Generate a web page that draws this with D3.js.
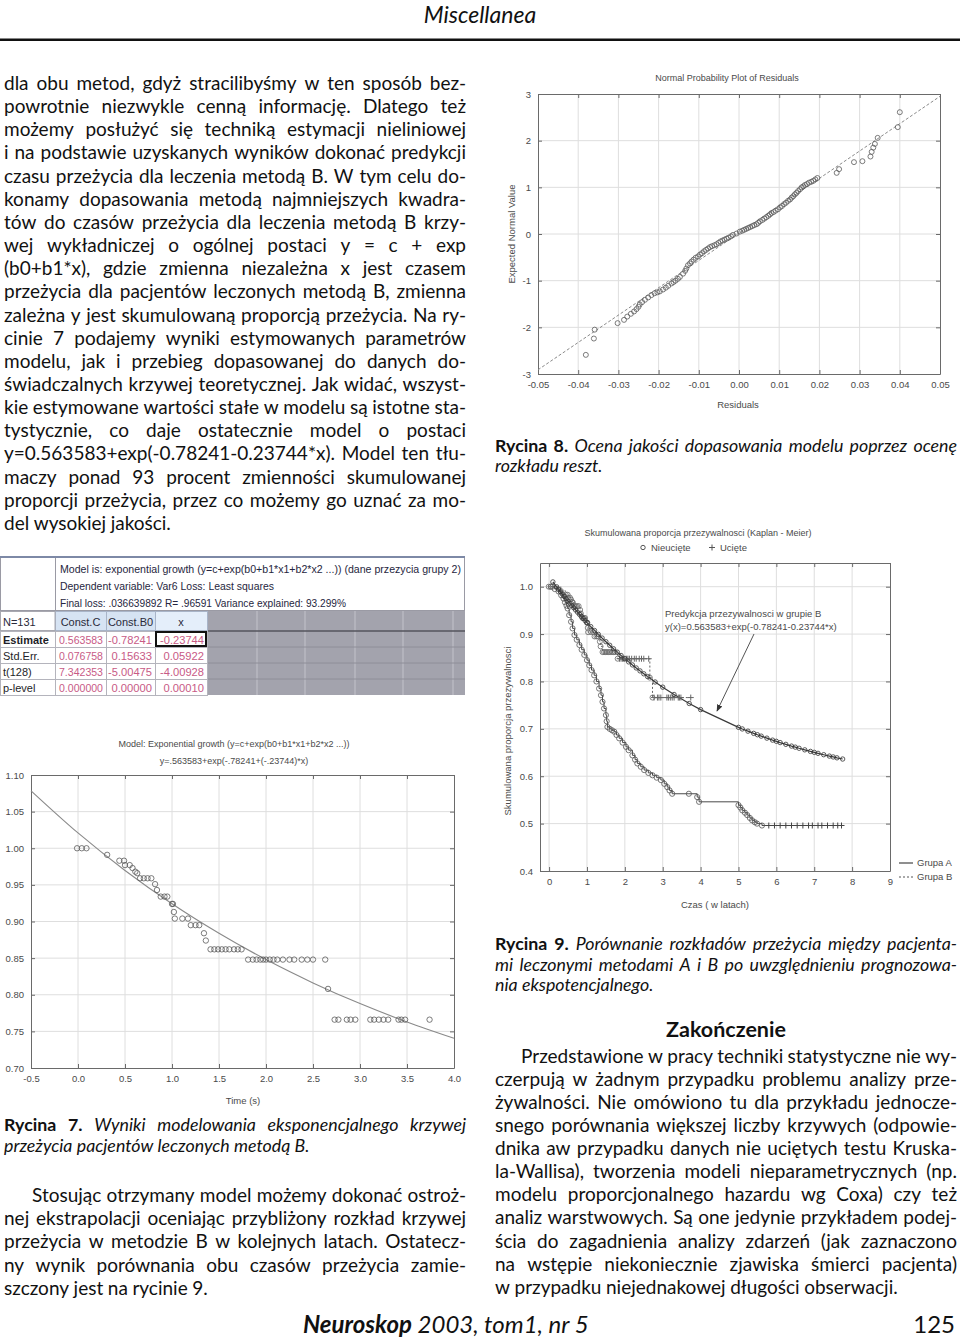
<!DOCTYPE html>
<html>
<head>
<meta charset="utf-8">
<script src="https://cdn.jsdelivr.net/npm/d3@7"></script>
<style>
body { margin: 0; background: #fff; }
svg { display: block; }
</style>
</head>
<body>
<svg id="page" width="960" height="1342"></svg>
<script>
// ---------- text of the page ----------
var leftLines = [
  "dla obu metod, gdyż stracilibyśmy w ten sposób bez-",
  "powrotnie niezwykle cenną informację. Dlatego też",
  "możemy posłużyć się techniką estymacji nieliniowej",
  "i na podstawie uzyskanych wyników dokonać predykcji",
  "czasu przeżycia dla leczenia metodą B. W tym celu do-",
  "konamy dopasowania metodą najmniejszych kwadra-",
  "tów do czasów przeżycia dla leczenia metodą B krzy-",
  "wej wykładniczej o ogólnej postaci y = c + exp",
  "(b0+b1*x), gdzie zmienna niezależna x jest czasem",
  "przeżycia dla pacjentów leczonych metodą B, zmienna",
  "zależna y jest skumulowaną proporcją przeżycia. Na ry-",
  "cinie 7 podajemy wyniki estymowanych parametrów",
  "modelu, jak i przebieg dopasowanej do danych do-",
  "świadczalnych krzywej teoretycznej. Jak widać, wszyst-",
  "kie estymowane wartości stałe w modelu są istotne sta-",
  "tystycznie, co daje ostatecznie model o postaci",
  "y=0.563583+exp(-0.78241-0.23744*x). Model ten tłu-",
  "maczy ponad 93 procent zmienności skumulowanej",
  "proporcji przeżycia, przez co możemy go uznać za mo-",
  "del wysokiej jakości."
];
var caption7 = ["Wyniki modelowania eksponencjalnego krzywej", "przeżycia pacjentów leczonych metodą B."];
var stosLines = [
  "Stosując otrzymany model możemy dokonać ostroż-",
  "nej ekstrapolacji oceniając przybliżony rozkład krzywej",
  "przeżycia w metodzie B w kolejnych latach. Ostatecz-",
  "ny wynik porównania obu czasów przeżycia zamie-",
  "szczony jest na rycinie 9."
];
var caption8 = ["Ocena jakości dopasowania modelu poprzez ocenę", "rozkładu reszt."];
var caption9 = ["Porównanie rozkładów przeżycia między pacjenta-",
  "mi leczonymi metodami A i B po uwzględnieniu prognozowa-",
  "nia ekspotencjalnego."];
var rightLines = [
  "Przedstawione w pracy techniki statystyczne nie wy-",
  "czerpują w żadnym przypadku problemu analizy prze-",
  "żywalności. Nie omówiono tu dla przykładu jednocze-",
  "snego porównania większej liczby krzywych (odpowie-",
  "dnika aw przypadku danych nie uciętych testu Kruska-",
  "la-Wallisa), tworzenia modeli nieparametrycznych (np.",
  "modelu proporcjonalnego hazardu wg Coxa) czy też",
  "analiz warstwowych. Są one jedynie przykładem podej-",
  "ścia do zagadnienia analizy zdarzeń (jak zaznaczono",
  "na wstępie niekoniecznie zjawiska śmierci pacjenta)",
  "w przypadku niejednakowej długości obserwacji."
];

// ---------- Rycina 8: normal probability plot ----------
var npResid = [-0.0381,-0.0361,-0.0359,-0.0302,-0.0286,-0.0278,-0.0269,-0.0261,-0.0255,-0.0250,
  -0.0247,-0.0241,-0.0234,-0.0226,-0.0218,-0.0210,-0.0203,-0.0197,-0.0189,-0.0182,
  -0.0176,-0.0168,-0.0163,-0.0158,-0.0152,-0.0147,-0.0139,-0.0134,-0.0131,-0.0127,
  -0.0122,-0.0118,-0.0113,-0.0108,-0.0102,-0.0097,-0.0092,-0.0087,-0.0082,-0.0077,
  -0.0072,-0.0067,-0.0061,-0.0056,-0.0051,-0.0046,-0.0041,-0.0036,-0.0031,-0.0026,
  -0.0020,-0.0015,-0.0006,0.0002,0.0008,0.0013,0.0018,0.0023,0.0028,0.0033,
  0.0038,0.0044,0.0048,0.0052,0.0058,0.0063,0.0068,0.0073,0.0077,0.0081,
  0.0086,0.0091,0.0097,0.0102,0.0107,0.0112,0.0117,0.0122,0.0127,0.0131,
  0.0135,0.0139,0.0143,0.0147,0.0152,0.0156,0.0160,0.0164,0.0169,0.0174,
  0.0180,0.0185,0.0190,0.0195,0.0243,0.0249,0.0286,0.0307,0.0327,0.0330,
  0.0334,0.0338,0.0345,0.0395,0.0400];
var npExpected = [-2.59,-2.24,-2.05,-1.91,-1.84,-1.77,-1.71,-1.66,-1.61,-1.56,
  -1.51,-1.46,-1.41,-1.36,-1.31,-1.27,-1.25,-1.23,-1.19,-1.15,
  -1.11,-1.06,-1.03,-1.00,-0.96,-0.92,-0.85,-0.79,-0.74,-0.67,
  -0.63,-0.59,-0.55,-0.51,-0.48,-0.44,-0.41,-0.37,-0.34,-0.31,
  -0.28,-0.26,-0.24,-0.22,-0.19,-0.16,-0.14,-0.12,-0.10,-0.08,
  -0.05,-0.02,0.01,0.05,0.07,0.09,0.11,0.13,0.15,0.17,
  0.19,0.21,0.24,0.27,0.30,0.33,0.36,0.39,0.42,0.45,
  0.47,0.50,0.53,0.57,0.60,0.64,0.67,0.71,0.74,0.78,
  0.81,0.85,0.88,0.92,0.96,1.00,1.02,1.05,1.07,1.10,
  1.12,1.14,1.17,1.20,1.31,1.39,1.54,1.56,1.66,1.76,
  1.85,1.93,2.06,2.29,2.61];
var npRefX = [-0.05, 0.05];
var npRefY = [-2.91, 2.95];
var residTicks = [-0.05,-0.04,-0.03,-0.02,-0.01,0,0.01,0.02,0.03,0.04,0.05];
var normTicks = [-3,-2,-1,0,1,2,3];

// ---------- Rycina 7: table + exponential fit ----------
var modelText = [
  "Model is: exponential growth (y=c+exp(b0+b1*x1+b2*x2 ...)) (dane przezycia grupy 2)",
  "Dependent variable: Var6 Loss: Least squares",
  "Final loss: .036639892 R= .96591 Variance explained: 93.299%"
];
var tableCols = ["Const.C", "Const.B0", "x"];
var tableRows = ["Estimate", "Std.Err.", "t(128)", "p-level"];
var tableVals = [
  ["0.563583", "-0.78241", "-0.23744"],
  ["0.076758", "0.15633", "0.05922"],
  ["7.342353", "-5.00475", "-4.00928"],
  ["0.000000", "0.00000", "0.00010"]
];
var timeTicks = [-0.5,0,0.5,1,1.5,2,2.5,3,3.5,4];
var propTicks = [0.70,0.75,0.80,0.85,0.90,0.95,1.00,1.05,1.10];
var fitTime = [-0.5,0,0.5,1,1.5,2,2.5,3,3.5,4];
var fitProp = [1.0785,1.0209,0.9697,0.9242,0.8839,0.8480,0.8162,0.7879,0.7628,0.7405];
var groupBTime = [-0.01,0.04,0.09,0.31,0.44,0.49,0.50,0.55,0.58,0.61,0.63,0.66,0.70,0.74,0.78,
  0.82,0.84,0.88,0.92,0.95,1.00,1.01,1.02,1.03,1.11,1.17,1.20,1.25,1.29,1.34,1.36,
  1.41,1.45,1.49,1.53,1.57,1.61,1.66,1.70,1.74,
  1.81,1.86,1.90,1.94,1.97,2.00,2.04,2.08,2.12,2.18,2.25,2.30,2.38,2.44,2.50,2.63,
  2.66,2.73,2.77,2.86,2.90,2.95,3.11,3.15,3.20,3.25,3.30,3.41,3.44,3.48,3.74];
var groupBSurv = [1.0,1.0,1.0,0.991,0.983,0.983,0.977,0.977,0.973,0.968,0.966,0.959,0.959,0.959,0.959,
  0.951,0.943,0.934,0.934,0.934,0.924,0.924,0.913,0.904,0.904,0.904,0.895,0.895,0.895,0.884,0.874,
  0.862,0.862,0.862,0.862,0.862,0.862,0.862,0.862,0.862,
  0.848,0.848,0.848,0.848,0.848,0.848,0.848,0.848,0.848,0.848,0.848,0.848,0.848,0.848,0.848,0.848,
  0.808,0.766,0.766,0.766,0.766,0.766,0.766,0.766,0.766,0.766,0.766,0.766,0.766,0.766,0.766];

// ---------- Rycina 9: Kaplan-Meier ----------
var kmTimeTicks = [0,1,2,3,4,5,6,7,8,9];
var kmPropTicks = [0.4,0.5,0.6,0.7,0.8,0.9,1.0];
var groupATime = [0.05,0.15,0.25,0.32,0.38,0.42,0.46,0.49,0.53,0.58,0.62,0.67,0.73,0.80,0.86,
  0.93,1.00,1.06,1.12,1.19,1.25,1.32,1.37,1.41,1.45,1.50,1.52,1.54,1.60,1.66,
  1.72,1.78,1.85,1.94,2.03,2.10,2.20,2.27,2.33,2.42,2.51,2.62,2.73,2.84,2.95,
  3.04,3.12,3.18,3.25,3.69,3.91,3.96,5.00,5.05,5.10,5.17,5.23,5.30,5.36,5.43,5.49,5.62];
var groupASurv = [1.0,0.995,0.99,0.982,0.975,0.967,0.96,0.954,0.94,0.926,0.912,0.898,0.888,0.877,0.867,
  0.856,0.845,0.834,0.824,0.813,0.8,0.785,0.771,0.757,0.743,0.729,0.716,0.704,0.70,0.697,
  0.694,0.687,0.68,0.671,0.662,0.655,0.644,0.635,0.627,0.62,0.613,0.607,0.602,0.597,0.592,
  0.584,0.577,0.57,0.563,0.563,0.556,0.546,0.539,0.534,0.528,0.523,0.518,0.512,0.507,0.503,0.50,0.496];
var groupACensTime = [5.80,5.95,6.10,6.25,6.40,6.55,6.70,6.85,6.95,7.10,7.20,7.35,7.50,7.62,7.72];
var groupACensSurv = 0.496;
var predTime = [0.10,0.20,0.25,0.30,0.35,0.40,0.45,0.50,0.55,0.60,0.65,0.70,0.75,0.80,0.85,0.90,0.95,1.00,
  1.10,1.20,1.30,1.40,1.50,1.60,1.70,1.80,1.90,2.00,2.10,2.20,2.30,2.40,2.50,2.60,2.80,3.00,3.30,3.70,4.00,
  5.00,5.10,5.25,5.40,5.50,5.60,5.75,5.90,6.00,6.10,6.25,6.40,6.50,6.60,6.75,6.90,7.00,7.10,7.25,7.40,7.50,7.60,7.75];
var predSurv = [1.0101,0.9997,0.9945,0.9894,0.9844,0.9795,0.9745,0.9697,0.9649,0.9602,0.9555,0.9509,0.9463,0.9418,0.9373,0.9329,0.9285,0.9242,
  0.9158,0.9075,0.8994,0.8916,0.8839,0.8764,0.8690,0.8619,0.8548,0.8481,0.8413,0.8349,0.8285,0.8223,0.8162,0.8103,0.7989,0.7880,0.7725,0.7535,0.7406,
  0.7032,0.6998,0.6951,0.6905,0.6876,0.6846,0.6804,0.6762,0.6737,0.6710,0.6673,0.6636,0.6614,0.6590,0.6557,0.6524,0.6504,0.6483,0.6454,0.6425,0.6407,0.6388,0.6363];

// ---------- helpers ----------
var FONT = "Lato, 'Open Sans', sans-serif";
var CFONT = "'Liberation Sans', Arial, sans-serif";
var svg = d3.select("#page");

// STATISTICA prints a plain hyphen as minus sign
function fmt(spec) {
  var f = d3.format(spec);
  return function(d) { return f(d).replace("\u2212", "-"); };
}

// one justified line, built word by word
function textLine(g, parts, x, y, width, justify, size) {
  var words = [];
  parts.forEach(function(p) {
    p.t.split(" ").forEach(function(w) { if (w) words.push({t: w, b: p.b, i: p.i}); });
  });
  var nodes = words.map(function(w) {
    return g.append("text").attr("y", y).attr("font-size", size)
      .attr("font-family", FONT).attr("fill", "#111")
      .attr("font-weight", w.b ? "bold" : null)
      .attr("font-style", w.i ? "italic" : null)
      .text(w.t);
  });
  var widths = nodes.map(function(n) { return n.node().getComputedTextLength(); });
  var total = d3.sum(widths);
  var gap = size * 0.24;
  if (justify && words.length > 1) gap = (width - total) / (words.length - 1);
  if (gap < 2.5) {
    // too tight: squeeze glyphs a bit
    var k = (width - 2.5 * (words.length - 1)) / total;
    widths = widths.map(function(w, i) {
      nodes[i].attr("textLength", w * k).attr("lengthAdjust", "spacingAndGlyphs");
      return w * k;
    });
    gap = 2.5;
  }
  var cx = x;
  nodes.forEach(function(n, i) { n.attr("x", cx); cx += widths[i] + gap; });
}

function paragraph(lines, x, y0, lh, width, size, indent) {
  var g = svg.append("g");
  lines.forEach(function(l, i) {
    var ind = (i === 0 && indent) ? indent : 0;
    textLine(g, [{t: l}], x + ind, y0 + i * lh, width - ind, i < lines.length - 1, size);
  });
}

function caption(label, lines, x, y0, lh, width, size) {
  var g = svg.append("g");
  lines.forEach(function(l, i) {
    var parts = i === 0 ? [{t: label, b: true}, {t: l, i: true}] : [{t: l, i: true}];
    textLine(g, parts, x, y0 + i * lh, width, i < lines.length - 1, size);
  });
}

function chartText(g, x, y, s, size, anchor) {
  return g.append("text").attr("x", x).attr("y", y).attr("font-family", CFONT)
    .attr("font-size", size || 9.5).attr("fill", "#4a4a4a")
    .attr("text-anchor", anchor || "middle").text(s);
}

// grid + box + axes in the STATISTICA look
function frame(g, x, y, xt, yt, fx, fy) {
  var x0 = x.range()[0], x1 = x.range()[1], y0 = y.range()[0], y1 = y.range()[1];
  g.append("g").selectAll("line")
    .data(xt.filter(function(v) { return x(v) > x0 + 1 && x(v) < x1 - 1; }))
    .join("line")
      .attr("x1", function(d) { return x(d); }).attr("x2", function(d) { return x(d); })
      .attr("y1", y1).attr("y2", y0).attr("stroke", "#dedede");
  g.append("g").selectAll("line")
    .data(yt.filter(function(v) { return y(v) < y0 - 1 && y(v) > y1 + 1; }))
    .join("line")
      .attr("y1", function(d) { return y(d); }).attr("y2", function(d) { return y(d); })
      .attr("x1", x0).attr("x2", x1).attr("stroke", "#dedede");
  var axes = [
    [d3.axisBottom(x).tickValues(xt).tickFormat(fx), "translate(0," + y0 + ")"],
    [d3.axisLeft(y).tickValues(yt).tickFormat(fy), "translate(" + x0 + ",0)"],
    [d3.axisTop(x).tickValues(xt).tickFormat(""), "translate(0," + y1 + ")"],
    [d3.axisRight(y).tickValues(yt).tickFormat(""), "translate(" + x1 + ",0)"]
  ];
  axes.forEach(function(a) {
    var ax = g.append("g").attr("transform", a[1])
      .call(a[0].tickSizeInner(-4).tickSizeOuter(0).tickPadding(7));
    ax.select(".domain").attr("stroke", "#6a6a6a");
    ax.selectAll(".tick line").attr("stroke", "#6a6a6a");
    ax.selectAll("text").attr("font-family", CFONT).attr("font-size", 9.5).attr("fill", "#4a4a4a");
  });
}

function circles(g, xs, ys, x, y, r, col) {
  g.append("g").selectAll("circle").data(xs).join("circle")
    .attr("cx", function(d) { return x(d); })
    .attr("cy", function(d, i) { return y(ys[i]); })
    .attr("r", r).attr("fill", "none").attr("stroke", col).attr("stroke-width", 0.8);
}

// ---------- header ----------
svg.append("text").attr("x", 480).attr("y", 23).attr("text-anchor", "middle")
  .attr("font-family", FONT).attr("font-style", "italic").attr("font-size", 23)
  .attr("fill", "#111").text("Miscellanea");
svg.append("rect").attr("x", 0).attr("y", 38.5).attr("width", 960).attr("height", 2.5).attr("fill", "#111");

// ---------- body text ----------
paragraph(leftLines, 4, 90, 23.15, 462, 19, 0);
caption("Rycina 7.", caption7, 4, 1130.5, 21.8, 462, 17.8);
paragraph(stosLines, 4, 1201.7, 23.3, 462, 19, 28);
caption("Rycina 8.", caption8, 495, 452, 20.3, 462, 17.8);
caption("Rycina 9.", caption9, 495, 950, 20.5, 462, 17.8);
svg.append("text").attr("x", 726).attr("y", 1037).attr("text-anchor", "middle")
  .attr("font-family", FONT).attr("font-weight", "bold").attr("font-size", 21.5)
  .attr("fill", "#111").text("Zakończenie");
paragraph(rightLines, 495, 1062.7, 23.1, 462, 19, 26);

// ---------- footer ----------
var foot = svg.append("text").attr("y", 1333).attr("font-family", FONT)
  .attr("font-size", 24).attr("fill", "#111").attr("font-style", "italic");
foot.append("tspan").attr("x", 303).attr("font-weight", "bold").text("Neuroskop");
foot.append("tspan").text(" 2003, tom1, nr 5");
svg.append("text").attr("x", 955).attr("y", 1333).attr("text-anchor", "end")
  .attr("font-family", FONT).attr("font-size", 24).attr("fill", "#111").text("125");

// ---------- Rycina 8 chart ----------
(function() {
  var g = svg.append("g");
  var x = d3.scaleLinear().domain([-0.05, 0.05]).range([538, 940]);
  var y = d3.scaleLinear().domain([-3, 3]).range([374, 94]);
  frame(g, x, y, residTicks, normTicks, fmt(".2f"), fmt("d"));
  g.append("line")
    .attr("x1", x(npRefX[0])).attr("y1", y(npRefY[0]))
    .attr("x2", x(npRefX[1])).attr("y2", y(npRefY[1]))
    .attr("stroke", "#8a8a8a").attr("stroke-dasharray", "3,2");
  circles(g, npResid, npExpected, x, y, 2.5, "#5a5a5a");
  chartText(g, 727, 81, "Normal Probability Plot of Residuals", 9);
  chartText(g, 738, 408, "Residuals", 9.5);
  chartText(g, 0, 0, "Expected Normal Value", 9.5)
    .attr("transform", "translate(515,234) rotate(-90)");
})();

// ---------- Rycina 7 table ----------
(function() {
  var g = svg.append("g").attr("font-family", CFONT);
  var colX = [0, 55, 106, 155, 207];
  var greyX = [207, 257, 305, 355, 403, 453, 465];
  var rowY = [611, 631, 647, 663, 679, 695];
  g.append("rect").attr("x", 0).attr("y", 557).attr("width", 465).attr("height", 138).attr("fill", "#fff");
  g.append("rect").attr("x", 55.5).attr("y", 557.5).attr("width", 409).attr("height", 53)
    .attr("fill", "#fff").attr("stroke", "#9a9aa4");
  g.append("rect").attr("x", 0.5).attr("y", 557.5).attr("width", 55).attr("height", 53)
    .attr("fill", "#fff").attr("stroke", "#9a9aa4");
  g.append("line").attr("x1", 0).attr("x2", 465).attr("y1", 557).attr("y2", 557)
    .attr("stroke", "#7d89a6").attr("stroke-width", 2);
  modelText.forEach(function(s, i) {
    var len = [401, 214, 286][i];
    g.append("text").attr("x", 60).attr("y", 573 + i * 17).attr("font-size", 10.5)
      .attr("fill", "#262640").attr("textLength", len).attr("lengthAdjust", "spacingAndGlyphs").text(s);
  });
  // grey empty area
  g.append("rect").attr("x", 207).attr("y", 611).attr("width", 258).attr("height", 84).attr("fill", "#a3a3ad");
  greyX.slice(1, -1).forEach(function(gx) {
    g.append("line").attr("x1", gx).attr("x2", gx).attr("y1", 611).attr("y2", 695)
      .attr("stroke", "#c3c3cb");
  });
  rowY.slice(1, -1).forEach(function(ry, i) {
    g.append("line").attr("x1", 207).attr("x2", 465).attr("y1", ry).attr("y2", ry)
      .attr("stroke", i === 0 ? "#55555e" : "#8e8e98").attr("stroke-width", i === 0 ? 1.5 : 1);
  });
  // header row
  tableCols.forEach(function(c, j) {
    g.append("rect").attr("x", colX[j + 1] + 0.5).attr("y", 611.5)
      .attr("width", colX[j + 2] - colX[j + 1]).attr("height", 19)
      .attr("fill", j === 2 ? "#e4eefa" : "#d6e3f3").attr("stroke", "#a8b4c8");
    g.append("text").attr("x", (colX[j + 1] + colX[j + 2]) / 2).attr("y", 625.5)
      .attr("text-anchor", "middle").attr("font-size", 11).attr("fill", "#2a2a3a").text(c);
  });
  g.append("rect").attr("x", 0.5).attr("y", 611.5).attr("width", 54.5).attr("height", 19)
    .attr("fill", "#fff").attr("stroke", "#a8a8b0");
  g.append("text").attr("x", 3).attr("y", 625.5).attr("font-size", 11).attr("fill", "#2a2a3a").text("N=131");
  // data rows
  tableRows.forEach(function(r, i) {
    var top = rowY[i + 1], bot = rowY[i + 2];
    for (var j = 0; j < 4; j++) {
      g.append("rect").attr("x", colX[j] + 0.5).attr("y", top + 0.5)
        .attr("width", colX[j + 1] - colX[j]).attr("height", bot - top)
        .attr("fill", "#fff").attr("stroke", "#b4b4bc");
    }
    g.append("text").attr("x", 3).attr("y", bot - 3.5).attr("font-size", 11)
      .attr("font-weight", i === 0 ? "bold" : null).attr("fill", "#1e1e28").text(r);
    tableVals[i].forEach(function(v, j) {
      g.append("text").attr("x", colX[j + 2] - 3).attr("y", bot - 3.5)
        .attr("text-anchor", "end").attr("font-size", 11).attr("fill", "#c85a86")
        .attr("textLength", Math.min(44, v.length * 5.8)).attr("lengthAdjust", "spacingAndGlyphs").text(v);
    });
  });
  // selected cell
  g.append("rect").attr("x", 156).attr("y", 632).attr("width", 50).attr("height", 14)
    .attr("fill", "none").attr("stroke", "#111").attr("stroke-width", 2);
})();

// ---------- Rycina 7 chart ----------
(function() {
  var g = svg.append("g");
  var x = d3.scaleLinear().domain([-0.5, 4]).range([31, 454]);
  var y = d3.scaleLinear().domain([0.7, 1.1]).range([1068, 775]);
  frame(g, x, y, timeTicks, propTicks, fmt(".1f"), fmt(".2f"));
  g.append("path").datum(fitTime)
    .attr("d", d3.line().x(function(d) { return x(d); })
      .y(function(d, i) { return y(fitProp[i]); }).curve(d3.curveMonotoneX))
    .attr("fill", "none").attr("stroke", "#8a8a8a").attr("stroke-width", 1.1);
  circles(g, groupBTime, groupBSurv, x, y, 2.7, "#5a5a5a");
  chartText(g, 234, 747, "Model: Exponential growth (y=c+exp(b0+b1*x1+b2*x2 ...))", 9);
  chartText(g, 234, 764, "y=.563583+exp(-.78241+(-.23744)*x)", 9);
  chartText(g, 243, 1104, "Time (s)", 9.5);
})();

// ---------- Rycina 9 chart ----------
(function() {
  var g = svg.append("g");
  var x = d3.scaleLinear().domain([-0.24, 9]).range([540, 890]);
  var y = d3.scaleLinear().domain([0.4, 1.05]).range([871, 563]);
  frame(g, x, y, kmTimeTicks, kmPropTicks, fmt("d"), fmt(".1f"));

  var step = d3.line().curve(d3.curveStepAfter);
  var aPts = groupATime.map(function(t, i) { return [x(t), y(groupASurv[i])]; });
  aPts.push([x(groupACensTime[groupACensTime.length - 1]), y(groupACensSurv)]);
  g.append("path").attr("d", step(aPts)).attr("fill", "none").attr("stroke", "#4a4a4a").attr("stroke-width", 1);
  var bPts = groupBTime.map(function(t, i) { return [x(t), y(groupBSurv[i])]; });
  g.append("path").attr("d", step(bPts)).attr("fill", "none").attr("stroke", "#666")
    .attr("stroke-width", 1).attr("stroke-dasharray", "2,2");
  g.append("path").datum(predTime)
    .attr("d", d3.line().x(function(d) { return x(d); }).y(function(d, i) { return y(predSurv[i]); }))
    .attr("fill", "none").attr("stroke", "#3a3a3a").attr("stroke-width", 1.2);

  circles(g, groupATime, groupASurv, x, y, 2.6, "#555");
  var plus = "M-3,0H3M0,-3V3";
  g.append("g").selectAll("path").data(groupACensTime).join("path")
    .attr("transform", function(d) { return "translate(" + x(d) + "," + y(groupACensSurv) + ")"; })
    .attr("d", plus).attr("stroke", "#444").attr("stroke-width", 1);
  // group B: repeated level after 1.8 years shown as censored marks
  var bEvent = [], bCens = [];
  groupBTime.forEach(function(t, i) {
    var c = i > 0 && groupBSurv[i] === groupBSurv[i - 1] && t > 1.8;
    (c ? bCens : bEvent).push(i);
  });
  circles(g, bEvent.map(function(i) { return groupBTime[i]; }), bEvent.map(function(i) { return groupBSurv[i]; }), x, y, 2.5, "#666");
  g.append("g").selectAll("path").data(bCens).join("path")
    .attr("transform", function(i) { return "translate(" + x(groupBTime[i]) + "," + y(groupBSurv[i]) + ")"; })
    .attr("d", plus).attr("stroke", "#666").attr("stroke-width", 1);
  circles(g, predTime, predSurv, x, y, 2.2, "#333");

  // annotation and arrow
  svg.append("defs").append("marker").attr("id", "arr").attr("viewBox", "0 0 10 10")
    .attr("refX", 9).attr("refY", 5).attr("markerWidth", 7).attr("markerHeight", 7)
    .attr("orient", "auto").append("path").attr("d", "M0,1L10,5L0,9Z").attr("fill", "#333");
  g.append("line").attr("x1", 754).attr("y1", 634).attr("x2", 717).attr("y2", 711)
    .attr("stroke", "#555").attr("stroke-width", 1).attr("marker-end", "url(#arr)");
  chartText(g, 665, 617, "Predykcja przezywalnosci  w grupie B", 9.5, "start");
  chartText(g, 665, 630, "y(x)=0.563583+exp(-0.78241-0.23744*x)", 9.5, "start");

  // titles and legends
  chartText(g, 698, 536, "Skumulowana proporcja przezywalnosci (Kaplan - Meier)", 9);
  g.append("circle").attr("cx", 643).attr("cy", 547.5).attr("r", 2.2).attr("fill", "none").attr("stroke", "#555");
  chartText(g, 651, 551, "Nieucięte", 9.5, "start");
  g.append("path").attr("transform", "translate(712,547.5)").attr("d", plus).attr("stroke", "#555");
  chartText(g, 720, 551, "Ucięte", 9.5, "start");
  chartText(g, 0, 0, "Skumulowana proporcja przezywalnosci", 9.5)
    .attr("transform", "translate(511,731) rotate(-90)");
  chartText(g, 715, 908, "Czas ( w latach)", 9.5);
  g.append("line").attr("x1", 899).attr("x2", 913).attr("y1", 863).attr("y2", 863).attr("stroke", "#444").attr("stroke-width", 1.2);
  chartText(g, 917, 866, "Grupa A", 9.5, "start");
  g.append("line").attr("x1", 899).attr("x2", 913).attr("y1", 877).attr("y2", 877)
    .attr("stroke", "#555").attr("stroke-dasharray", "2,2");
  chartText(g, 917, 880, "Grupa B", 9.5, "start");
})();
</script>
</body>
</html>
